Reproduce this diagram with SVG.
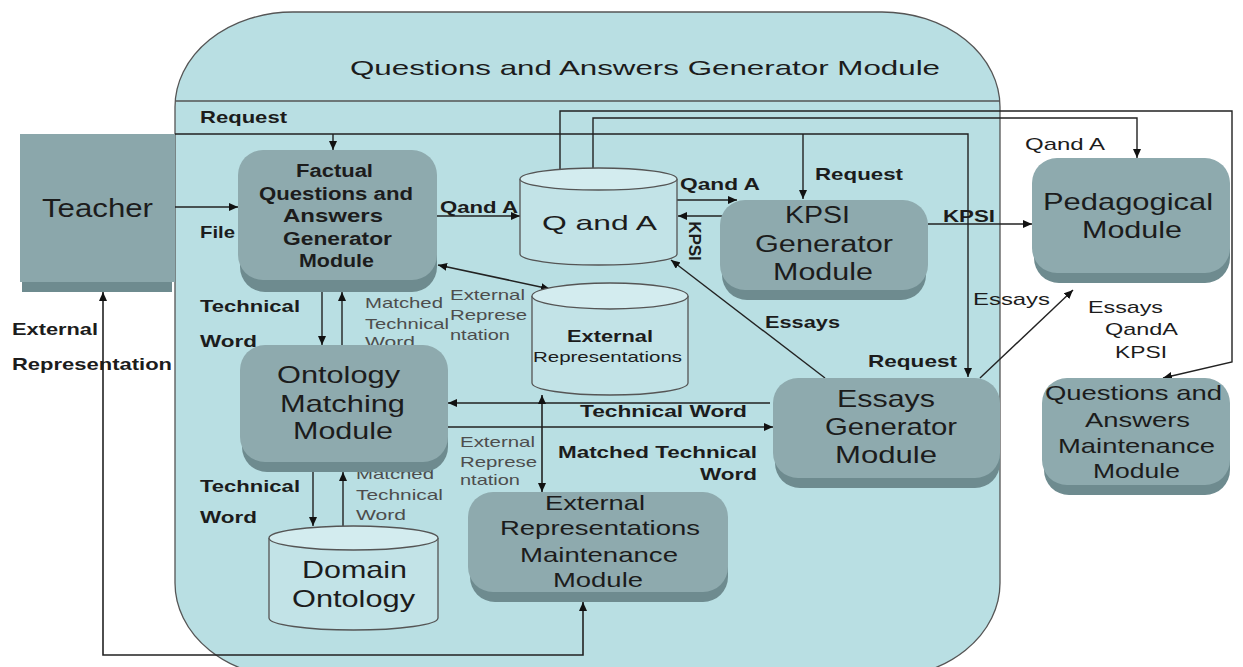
<svg xmlns="http://www.w3.org/2000/svg" width="1243" height="667" viewBox="0 0 1243 667">
<style>
text{font-family:"Liberation Sans",Arial,sans-serif;fill:#1c1c1c}
.b{font-weight:bold;font-size:17px}
.n{font-size:17px}
.lt{font-size:15px;fill:#4d4d4d}
.face{fill:#8eaaae}
.shade{fill:#6e8b8f}
.cyl{fill:#c2e3e7;stroke:#555;stroke-width:1.3}
.cyltop{fill:#d3ecef;stroke:#555;stroke-width:1.3}
.ar{fill:none;stroke:#222;stroke-width:1.4;marker-end:url(#ah)}
.ar2{fill:none;stroke:#222;stroke-width:1.6;marker-end:url(#ah);marker-start:url(#ah)}
</style>
<defs>
<marker id="ah" markerUnits="userSpaceOnUse" markerWidth="10" markerHeight="8" refX="9" refY="4" orient="auto-start-reverse">
<path d="M0,0 L9,4 L0,8 z" fill="#111"/>
</marker>
</defs>
<rect width="1243" height="667" fill="#ffffff"/>
<g id="container">
<rect x="175" y="12" width="825" height="666" rx="118" ry="95" fill="#b9dfe3" stroke="#555" stroke-width="1.3"/>
<line x1="176" y1="101" x2="1000" y2="101" stroke="#555" stroke-width="1.3"/>
<text x="350" y="75" font-size="21" textLength="590" lengthAdjust="spacingAndGlyphs">Questions and Answers Generator Module</text>
</g>
<g id="connectors">
<line class="ar" x1="175" y1="207" x2="238" y2="207"/>
<polyline class="ar" points="175,134 968,134 968,377"/>
<line class="ar" x1="333" y1="134" x2="333" y2="150"/>
<line class="ar" x1="803" y1="134" x2="803" y2="199"/>
<line class="ar" x1="437" y1="216" x2="520" y2="216"/>
<line class="ar" x1="677" y1="200" x2="737" y2="200"/>
<line class="ar" x1="722" y1="216" x2="678" y2="216"/>
<line class="ar" x1="928" y1="224" x2="1032" y2="224"/>
<polyline class="ar" points="593,168 593,118 1137,118 1137,158"/>
<polyline class="ar" points="560,169 560,111 1232,111 1232,362 1163,378"/>
<line class="ar" x1="825" y1="378" x2="671" y2="260"/>
<line class="ar" x1="980" y1="378" x2="1073" y2="290"/>
<line class="ar2" x1="438" y1="265" x2="550" y2="289"/>
<line class="ar" x1="322" y1="292" x2="322" y2="345"/>
<line class="ar" x1="342" y1="345" x2="342" y2="292"/>
<line class="ar" x1="770" y1="403" x2="448" y2="403"/>
<line class="ar" x1="448" y1="427" x2="773" y2="427"/>
<line class="ar2" x1="542" y1="395" x2="542" y2="492"/>
<line class="ar" x1="313" y1="472" x2="313" y2="526"/>
<line class="ar" x1="343" y1="526" x2="343" y2="472"/>
<polyline class="ar2" points="103,292 103,655 583,655 583,602"/>
<text class="b" x="200" y="123" textLength="87" lengthAdjust="spacingAndGlyphs">Request</text>
<text class="b" x="200" y="238" textLength="35" lengthAdjust="spacingAndGlyphs">File</text>
<text class="b" x="440" y="213" textLength="78" lengthAdjust="spacingAndGlyphs">Qand A</text>
<text class="b" x="680" y="190" textLength="80" lengthAdjust="spacingAndGlyphs">Qand A</text>
<text class="b" transform="translate(689,241) rotate(90)" text-anchor="middle">KPSI</text>
<text class="b" x="815" y="180" textLength="88" lengthAdjust="spacingAndGlyphs">Request</text>
<text class="b" x="943" y="222" textLength="52" lengthAdjust="spacingAndGlyphs">KPSI</text>
<text class="n" x="1025" y="150" textLength="80" lengthAdjust="spacingAndGlyphs">Qand A</text>
<text class="n" x="973" y="305" textLength="77" lengthAdjust="spacingAndGlyphs">Essays</text>
<text class="n" x="1088" y="313" textLength="75" lengthAdjust="spacingAndGlyphs">Essays</text>
<text class="n" x="1105" y="335" textLength="73" lengthAdjust="spacingAndGlyphs">QandA</text>
<text class="n" x="1115" y="358" textLength="52" lengthAdjust="spacingAndGlyphs">KPSI</text>
<text class="b" x="868" y="367" textLength="89" lengthAdjust="spacingAndGlyphs">Request</text>
<text class="b" x="765" y="328" textLength="75" lengthAdjust="spacingAndGlyphs">Essays</text>
<text class="b" x="200" y="312" textLength="100" lengthAdjust="spacingAndGlyphs">Technical</text>
<text class="b" x="200" y="347" textLength="57" lengthAdjust="spacingAndGlyphs">Word</text>
<text class="b" x="12" y="335" textLength="86" lengthAdjust="spacingAndGlyphs">External</text>
<text class="b" x="12" y="370" textLength="160" lengthAdjust="spacingAndGlyphs">Representation</text>
<text class="lt" x="365" y="308" textLength="78" lengthAdjust="spacingAndGlyphs">Matched</text>
<text class="lt" x="365" y="329" textLength="84" lengthAdjust="spacingAndGlyphs">Technical</text>
<text class="lt" x="365" y="347" textLength="50" lengthAdjust="spacingAndGlyphs">Word</text>
<text class="lt" x="450" y="300" textLength="75" lengthAdjust="spacingAndGlyphs">External</text>
<text class="lt" x="450" y="320" textLength="77" lengthAdjust="spacingAndGlyphs">Represe</text>
<text class="lt" x="450" y="340" textLength="60" lengthAdjust="spacingAndGlyphs">ntation</text>
<text class="b" x="580" y="417" font-size="18" textLength="167" lengthAdjust="spacingAndGlyphs">Technical Word</text>
<text class="b" x="558" y="458" font-size="18" textLength="199" lengthAdjust="spacingAndGlyphs">Matched Technical</text>
<text class="b" x="700" y="480" font-size="18" textLength="57" lengthAdjust="spacingAndGlyphs">Word</text>
<text class="lt" x="460" y="447" textLength="75" lengthAdjust="spacingAndGlyphs">External</text>
<text class="lt" x="460" y="467" textLength="77" lengthAdjust="spacingAndGlyphs">Represe</text>
<text class="lt" x="460" y="485" textLength="60" lengthAdjust="spacingAndGlyphs">ntation</text>
<text class="b" x="200" y="492" textLength="100" lengthAdjust="spacingAndGlyphs">Technical</text>
<text class="b" x="200" y="523" textLength="57" lengthAdjust="spacingAndGlyphs">Word</text>
<text class="lt" x="356" y="479" textLength="78" lengthAdjust="spacingAndGlyphs">Matched</text>
<text class="lt" x="356" y="500" textLength="87" lengthAdjust="spacingAndGlyphs">Technical</text>
<text class="lt" x="356" y="520" textLength="50" lengthAdjust="spacingAndGlyphs">Word</text>
</g>
<g id="teacher">
<rect class="shade" x="22" y="150" width="150" height="142"/>
<rect x="20" y="134" width="155" height="148" fill="#8ba7ab"/>
<text x="42" y="217" font-size="26" textLength="111" lengthAdjust="spacingAndGlyphs">Teacher</text>
</g>
<g id="factual-qa-generator">
<rect class="shade" x="240" y="162" width="197" height="130" rx="25"/>
<rect class="face" x="238" y="150" width="199" height="130" rx="25"/>
<g font-size="18" font-weight="bold">
<text x="296" y="177" textLength="77" lengthAdjust="spacingAndGlyphs">Factual</text>
<text x="259" y="200" textLength="154" lengthAdjust="spacingAndGlyphs">Questions and</text>
<text x="283" y="222" textLength="100" lengthAdjust="spacingAndGlyphs">Answers</text>
<text x="283" y="245" textLength="109" lengthAdjust="spacingAndGlyphs">Generator</text>
<text x="299" y="267" textLength="75" lengthAdjust="spacingAndGlyphs">Module</text>
</g>
</g>
<g id="q-and-a">
<path class="cyl" d="M520,179 L520,254 A78.5,11 0 0 0 677,254 L677,179"/>
<ellipse class="cyltop" cx="598.5" cy="179" rx="78.5" ry="11"/>
<text x="542" y="230" font-size="21" textLength="115" lengthAdjust="spacingAndGlyphs">Q and A</text>
</g>
<g id="kpsi-generator">
<rect class="shade" x="722" y="210" width="204" height="90" rx="25"/>
<rect class="face" x="720" y="200" width="208" height="90" rx="25"/>
<g font-size="23">
<text x="785" y="223" textLength="65" lengthAdjust="spacingAndGlyphs">KPSI</text>
<text x="755" y="252" textLength="138" lengthAdjust="spacingAndGlyphs">Generator</text>
<text x="773" y="280" textLength="100" lengthAdjust="spacingAndGlyphs">Module</text>
</g>
</g>
<g id="pedagogical">
<rect class="shade" x="1034" y="168" width="196" height="115" rx="25"/>
<rect class="face" x="1032" y="158" width="198" height="115" rx="25"/>
<g font-size="24">
<text x="1043" y="210" textLength="170" lengthAdjust="spacingAndGlyphs">Pedagogical</text>
<text x="1082" y="238" textLength="100" lengthAdjust="spacingAndGlyphs">Module</text>
</g>
</g>
<g id="essays-generator">
<rect class="shade" x="775" y="388" width="225" height="100" rx="25"/>
<rect class="face" x="773" y="378" width="227" height="100" rx="25"/>
<g font-size="24">
<text x="837" y="407" textLength="98" lengthAdjust="spacingAndGlyphs">Essays</text>
<text x="825" y="435" textLength="132" lengthAdjust="spacingAndGlyphs">Generator</text>
<text x="835" y="463" textLength="102" lengthAdjust="spacingAndGlyphs">Module</text>
</g>
</g>
<g id="qa-maintenance">
<rect class="shade" x="1044" y="388" width="186" height="107" rx="25"/>
<rect class="face" x="1042" y="378" width="188" height="107" rx="25"/>
<g font-size="21">
<text x="1045" y="400" textLength="177" lengthAdjust="spacingAndGlyphs">Questions and</text>
<text x="1085" y="427" textLength="105" lengthAdjust="spacingAndGlyphs">Answers</text>
<text x="1058" y="453" textLength="157" lengthAdjust="spacingAndGlyphs">Maintenance</text>
<text x="1093" y="478" textLength="87" lengthAdjust="spacingAndGlyphs">Module</text>
</g>
</g>
<g id="external-representations">
<path class="cyl" d="M532,296 L532,383 A78,12 0 0 0 688,383 L688,296"/>
<ellipse class="cyltop" cx="610" cy="296" rx="78" ry="13"/>
<text x="567" y="342" font-size="17" font-weight="bold" textLength="86" lengthAdjust="spacingAndGlyphs">External</text>
<text x="533" y="362" font-size="15" textLength="149" lengthAdjust="spacingAndGlyphs">Representations</text>
</g>
<g id="ontology-matching">
<rect class="shade" x="242" y="357" width="206" height="115" rx="25"/>
<rect class="face" x="240" y="345" width="208" height="117" rx="25"/>
<g font-size="24">
<text x="277" y="383" textLength="123" lengthAdjust="spacingAndGlyphs">Ontology</text>
<text x="280" y="412" textLength="125" lengthAdjust="spacingAndGlyphs">Matching</text>
<text x="293" y="439" textLength="100" lengthAdjust="spacingAndGlyphs">Module</text>
</g>
</g>
<g id="domain-ontology">
<path class="cyl" d="M269,538 L269,618 A84.5,12 0 0 0 438,618 L438,538"/>
<ellipse class="cyltop" cx="353.5" cy="538" rx="84.5" ry="12"/>
<g font-size="24">
<text x="302" y="578" textLength="105" lengthAdjust="spacingAndGlyphs">Domain</text>
<text x="292" y="607" textLength="123" lengthAdjust="spacingAndGlyphs">Ontology</text>
</g>
</g>
<g id="er-maintenance">
<rect class="shade" x="470" y="502" width="258" height="100" rx="25"/>
<rect class="face" x="468" y="492" width="260" height="100" rx="25"/>
<g font-size="21">
<text x="545" y="510" textLength="100" lengthAdjust="spacingAndGlyphs">External</text>
<text x="500" y="535" textLength="200" lengthAdjust="spacingAndGlyphs">Representations</text>
<text x="520" y="562" textLength="158" lengthAdjust="spacingAndGlyphs">Maintenance</text>
<text x="553" y="587" textLength="90" lengthAdjust="spacingAndGlyphs">Module</text>
</g>
</g>
</svg>
